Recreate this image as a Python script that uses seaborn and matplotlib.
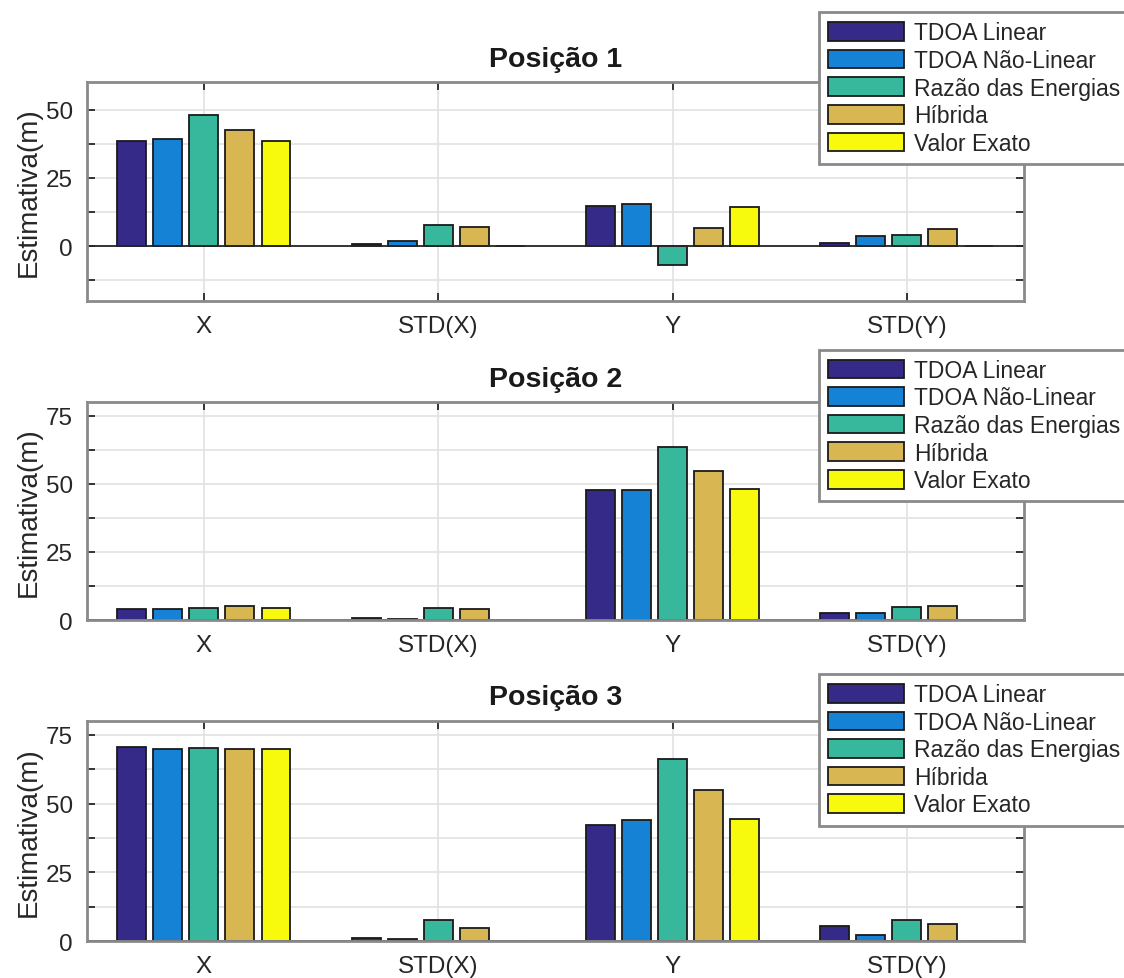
import numpy as np
import pandas as pd
import matplotlib
matplotlib.use("Agg")
import matplotlib.pyplot as plt
from matplotlib.patches import Patch
import seaborn as sns

# Categories on the x axis and the compared methods
categories = ["X", "STD(X)", "Y", "STD(Y)"]
methods = ["TDOA Linear", "TDOA Não-Linear", "Razão das Energias", "Híbrida", "Valor Exato"]
colors = ["#352a87", "#1582d6", "#37b89d", "#d8b753", "#f8fa0d"]

# Position 1 estimates (m), one list per method across categories
p1_tdoa_lin = [38.6, 0.6, 14.8, 1.1]
p1_tdoa_nl = [39.1, 1.7, 15.6, 3.6]
p1_razao = [47.9, 7.6, -7.0, 4.2]
p1_hibrida = [42.4, 7.1, 6.6, 6.1]
p1_exato = [38.6, 0.0, 14.2, 0.0]

# Position 2 estimates (m)
p2_tdoa_lin = [4.2, 0.7, 47.9, 2.6]
p2_tdoa_nl = [4.2, 0.5, 47.6, 2.4]
p2_razao = [4.5, 4.5, 63.5, 4.9]
p2_hibrida = [5.0, 3.9, 54.6, 5.2]
p2_exato = [4.5, 0.0, 48.2, 0.0]

# Position 3 estimates (m)
p3_tdoa_lin = [70.4, 1.3, 42.4, 5.6]
p3_tdoa_nl = [70.0, 0.8, 44.2, 2.2]
p3_razao = [70.3, 7.6, 66.1, 7.6]
p3_hibrida = [70.0, 4.9, 55.1, 6.4]
p3_exato = [69.8, 0.0, 44.4, 0.0]

titles = ["Posição 1", "Posição 2", "Posição 3"]
ylims = [(-20, 60), (0, 80), (0, 80)]
yticks = [[-12.5, 0, 12.5, 25, 37.5, 50],
          [0, 12.5, 25, 37.5, 50, 62.5, 75],
          [0, 12.5, 25, 37.5, 50, 62.5, 75]]

positions = [
    [p1_tdoa_lin, p1_tdoa_nl, p1_razao, p1_hibrida, p1_exato],
    [p2_tdoa_lin, p2_tdoa_nl, p2_razao, p2_hibrida, p2_exato],
    [p3_tdoa_lin, p3_tdoa_nl, p3_razao, p3_hibrida, p3_exato],
]


def to_frame(series):
    rows = []
    for m, vals in zip(methods, series):
        for c, v in zip(categories, vals):
            rows.append({"categoria": c, "metodo": m, "valor": v})
    return pd.DataFrame(rows)


sns.set_style("ticks")
plt.rcParams["font.family"] = ["Liberation Sans", "DejaVu Sans"]

W, H = 1124, 979
fig = plt.figure(figsize=(W / 100, H / 100), dpi=100)

ax_left, ax_right = 86.7, 1024
ax_boxes = [(83.3, 301.7), (403.3, 621.0), (722.0, 942.3)]
legend_tops = [13.3, 350.7, 675.0]

box_color = "#8a8a8a"
tick_color = "#262626"
grid_color = "#e2e2e2"

for i, (top, bottom) in enumerate(ax_boxes):
    ax = fig.add_axes([ax_left / W, 1 - bottom / H,
                       (ax_right - ax_left) / W, (bottom - top) / H])
    df = to_frame(positions[i])
    sns.barplot(data=df, x="categoria", y="valor", hue="metodo",
                order=categories, hue_order=methods, palette=colors,
                saturation=1, width=0.769, gap=0.2,
                edgecolor="#1a1a1a", linewidth=1.3,
                legend=False, ax=ax, zorder=3)

    ax.set_xlim(-0.5, 3.5)
    ax.set_ylim(*ylims[i])
    ax.set_yticks(yticks[i])
    ax.set_yticklabels([f"{t:g}" if t % 25 == 0 else "" for t in yticks[i]])
    ax.set_xticks(range(len(categories)))
    ax.set_xticklabels(categories)

    ax.axhline(0, color=tick_color, lw=1.3, zorder=4)

    ax.grid(True, color=grid_color, lw=1.2)
    ax.set_axisbelow(True)
    for sp in ax.spines.values():
        sp.set_visible(True)
        sp.set_color(box_color)
        sp.set_linewidth(2.0)
        sp.set_zorder(5)
    ax.tick_params(axis="both", which="major", direction="in", length=6,
                   width=1.3, color=tick_color, labelsize=17.5,
                   labelcolor="#262626", top=True, right=True, pad=10)

    ax.set_xlabel("")
    ax.set_ylabel("Estimativa(m)", fontsize=20, color="#262626", labelpad=3)
    ax.set_title(titles[i], fontsize=20.5, fontweight="bold", color="#1a1a1a", pad=12)

    handles = [Patch(facecolor=c, edgecolor="#1a1a1a", linewidth=1.3, label=m)
               for c, m in zip(colors, methods)]
    fig.legend(handles=handles, loc="upper left",
               bbox_to_anchor=(819 / W, 1 - legend_tops[i] / H),
               bbox_transform=fig.transFigure, borderaxespad=0,
               fontsize=16.5, frameon=True, fancybox=False, framealpha=1,
               edgecolor=box_color, handlelength=3.3, handleheight=0.87,
               handletextpad=0.45, labelspacing=0.2, borderpad=0.4)
    fig.legends[-1].get_frame().set_linewidth(2.0)

fig.savefig("out.png", dpi=100)
